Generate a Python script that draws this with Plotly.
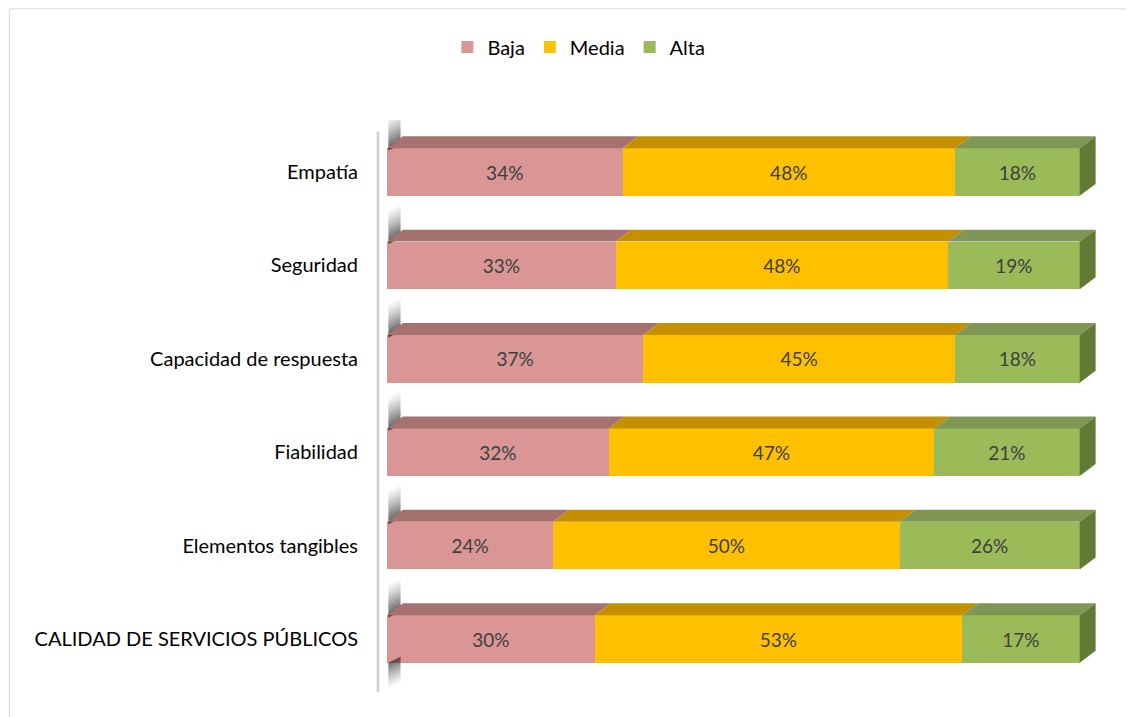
import plotly.graph_objects as go

categories = ["CALIDAD DE SERVICIOS PÚBLICOS", "Elementos tangibles", "Fiabilidad",
              "Capacidad de respuesta", "Seguridad", "Empatía"]
baja = [30, 24, 32, 37, 33, 34]
media = [53, 50, 47, 45, 48, 48]
alta = [17, 26, 21, 18, 19, 18]
series_names = ["Baja", "Media", "Alta"]

front_colors = ["#D99694", "#FFC000", "#9BBB59"]
top_colors = ["#A6726F", "#C49000", "#7F9655"]
side_color = "#617B35"
text_color = "#404040"
FONT = "Lato"

W = 0.51      # bar thickness (category units)
DX = 2.3      # depth offset in x (percent units)
DY = 0.128    # depth offset in y (category units)

ys = list(range(len(categories)))
fig = go.Figure()

# soft wall shadows behind each bar (layered translucent slices)
N = 12
for i, y in enumerate(ys):
    base = y + W / 2 + DY * 0.3
    span = 0.36
    for k in range(N):
        ya = base + span * k / N
        yb = base + span * (k + 1) / N
        a = 0.75 * (1 - k / N) ** 1.3
        fig.add_trace(go.Scatter(
            x=[0.2, DX * 0.85, DX * 0.85, 0.2, 0.2],
            y=[ya - DY * 0.5, ya, yb, yb - DY * 0.5, ya - DY * 0.5],
            fill="toself", fillcolor=f"rgba(30,30,30,{a:.3f})", mode="lines",
            line=dict(width=0), hoverinfo="skip", showlegend=False))
# shadow under the lowest bar
y = ys[0]
for k in range(N):
    ya = y - W / 2 - 0.28 * (k + 1) / N
    yb = y - W / 2 - 0.28 * k / N
    a = 0.65 * (1 - k / N) ** 1.3
    fig.add_trace(go.Scatter(
        x=[0.2, DX * 0.85, DX * 0.85, 0.2, 0.2],
        y=[ya, ya + DY * 0.5, yb + DY * 0.5, yb, ya],
        fill="toself", fillcolor=f"rgba(30,30,30,{a:.3f})", mode="lines",
        line=dict(width=0), hoverinfo="skip", showlegend=False))

# 3D tops and side faces, computed from the data
series = [baja, media, alta]
for i, y in enumerate(ys):
    left = 0
    for s, vals in enumerate(series):
        x0, x1 = left, left + vals[i]
        yt = y + W / 2
        fig.add_trace(go.Scatter(
            x=[x0, x1, x1 + DX, x0 + DX, x0],
            y=[yt, yt, yt + DY, yt + DY, yt],
            fill="toself", fillcolor=top_colors[s], mode="lines",
            line=dict(width=0), hoverinfo="skip", showlegend=False))
        left = x1
    yb = y - W / 2
    yt = y + W / 2
    fig.add_trace(go.Scatter(
        x=[left, left + DX, left + DX, left, left],
        y=[yb, yb + DY, yt + DY, yt, yb],
        fill="toself", fillcolor=side_color, mode="lines",
        line=dict(width=0), hoverinfo="skip", showlegend=False))

for s, (name, vals) in enumerate(zip(series_names, series)):
    fig.add_trace(go.Bar(
        name=name, y=ys, x=vals, orientation="h", width=W,
        marker=dict(color=front_colors[s], line=dict(width=0)),
        text=[f"{v}%" for v in vals], textposition="inside",
        insidetextanchor="middle",
        textfont=dict(family=FONT, size=19, color=text_color),
        hoverinfo="skip"))

# page body adds an 8px offset; compensate in sizes/margins
fig.update_layout(
    barmode="stack",
    width=1126, height=709,
    margin=dict(l=379, r=37, t=112, b=27),
    paper_bgcolor="white", plot_bgcolor="white",
    font=dict(family=FONT, size=20, color="#000000"),
    showlegend=True,
    legend=dict(orientation="h", xref="container", yref="container",
                x=0.507, y=0.945, xanchor="center", yanchor="middle",
                font=dict(family=FONT, size=20, color="#000000"),
                traceorder="normal", itemwidth=30, tracegroupgap=0),
    xaxis=dict(range=[0, 102.5], visible=False, showgrid=False, zeroline=False),
    yaxis=dict(range=[-0.546, 5.557], tickvals=ys, ticktext=categories,
               showgrid=False, zeroline=False, showline=False, ticks="",
               ticklabelstandoff=28,
               tickfont=dict(family=FONT, size=20, color="#000000")),
    shapes=[
        dict(type="line", xref="paper", yref="paper",
             x0=-0.0127, x1=-0.0127, y0=-0.004, y1=0.98,
             line=dict(color="#D0D0D0", width=2.5)),
        dict(type="line", xref="paper", yref="paper",
             x0=-0.532, x1=1.06, y0=1.195, y1=1.195,
             line=dict(color="#D9D9D9", width=1)),
        dict(type="line", xref="paper", yref="paper",
             x0=-0.532, x1=-0.532, y0=1.195, y1=-0.06,
             line=dict(color="#D9D9D9", width=1)),
    ],
)

fig.write_html("out.html")
